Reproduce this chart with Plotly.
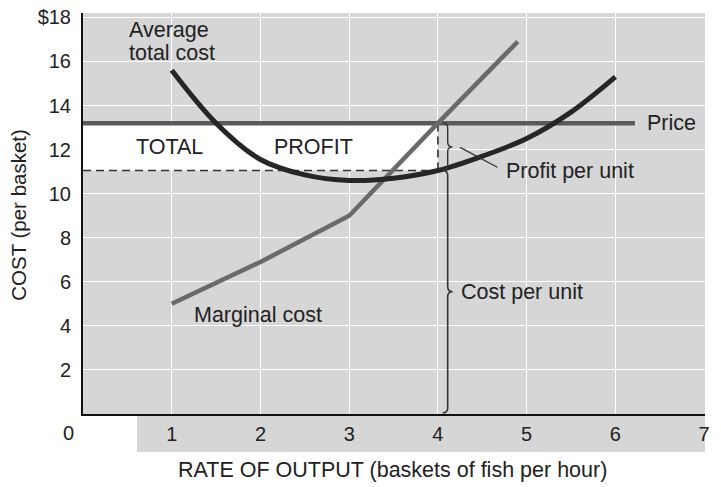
import plotly.graph_objects as go

# ---------------- data ----------------
atc_x = [1, 1.5, 2, 2.5, 3, 3.5, 4, 4.5, 5, 5.5, 6]
atc_y = [15.6, 13.2, 11.55, 10.85, 10.6, 10.7, 11.05, 11.7, 12.5, 13.7, 15.3]
mc_x = [1, 2, 3, 4, 4.9]
mc_y = [5, 6.9, 9, 13.2, 16.9]
price = 13.2
price_x_end = 6.22
profit_q = 4.0
unit_cost = 11.05
x_ticks = [1, 2, 3, 4, 5, 6, 7]
y_ticks = [2, 4, 6, 8, 10, 12, 14, 16, 18]
y_ticktext = ["2", "4", "6", "8", "10", "12", "14", "16", "$18"]

FONT = "Liberation Sans, Arial, sans-serif"
TXT = "#222"
LBL = 21.5
TICK = 20

fig = go.Figure()

# Price line
fig.add_trace(go.Scatter(x=[0, price_x_end], y=[price, price], mode="lines",
                         line=dict(color="#5a5a5a", width=4.5), hoverinfo="skip"))
# dashed lines for total profit box
fig.add_trace(go.Scatter(x=[0, profit_q], y=[unit_cost, unit_cost], mode="lines",
                         line=dict(color="#333", width=1.6, dash="8px,5px"), hoverinfo="skip"))
fig.add_trace(go.Scatter(x=[profit_q, profit_q], y=[unit_cost, price], mode="lines",
                         line=dict(color="#333", width=1.6, dash="8px,5px"), hoverinfo="skip"))
# Marginal cost
fig.add_trace(go.Scatter(x=mc_x, y=mc_y, mode="lines",
                         line=dict(color="#6a6a6a", width=4.5), hoverinfo="skip"))
# Average total cost
fig.add_trace(go.Scatter(x=atc_x, y=atc_y, mode="lines", line_shape="spline",
                         line=dict(color="#262626", width=5), hoverinfo="skip"))

# ---------------- braces ----------------
def brace(xb, y0, y1, ym, d=0.055, e=0.22):
    return (f"M {xb-d},{y1} Q {xb},{y1} {xb},{y1-e} L {xb},{ym+e} "
            f"Q {xb},{ym} {xb+d},{ym} Q {xb},{ym} {xb},{ym-e} "
            f"L {xb},{y0+e} Q {xb},{y0} {xb-d},{y0}")

brace_x = profit_q + 0.11
shapes = [
    # white total-profit band
    dict(type="rect", xref="x", yref="y", x0=0, x1=profit_q, y0=unit_cost, y1=price,
         fillcolor="white", line=dict(width=0), layer="below"),
    # grey strip of the scan below the axis
    dict(type="rect", xref="paper", yref="paper", x0=0.087, x1=1.0, y0=-0.095, y1=0,
         fillcolor="#d6d6d6", line=dict(width=0), layer="below"),
    dict(type="path", xref="x", yref="y",
         path=brace(brace_x, unit_cost, price, (unit_cost + price) / 2),
         line=dict(color="#333", width=1.4)),
    dict(type="path", xref="x", yref="y",
         path=brace(brace_x, 0.05, unit_cost, 5.55),
         line=dict(color="#333", width=1.6)),
    # connector for profit per unit
    dict(type="line", xref="x", yref="y", x0=4.25, y0=12.1, x1=4.67, y1=11.2,
         line=dict(color="#333", width=1.3)),
]

def lab(text, x, y, xanchor="center", size=LBL, **kw):
    d = dict(text=text, x=x, y=y, xref="x", yref="y", xanchor=xanchor,
             yanchor="middle", showarrow=False,
             font=dict(size=size, color=TXT, family=FONT))
    d.update(kw)
    return d

annotations = [
    lab("Average", 0.5, 17.43, xanchor="left"),
    lab("total cost", 0.5, 16.39, xanchor="left"),
    lab("TOTAL", 0.98, 12.1),
    lab("PROFIT", 2.6, 12.1),
    lab("Price", 6.33, price, xanchor="left"),
    lab("Profit per unit", 4.74, 11.05, xanchor="left"),
    lab("Cost per unit", 4.24, 5.55, xanchor="left"),
    lab("Marginal cost", 1.97, 4.5),
    dict(text="0", x=-0.024, y=-0.047, xref="paper", yref="paper", showarrow=False,
         xanchor="center", yanchor="middle",
         font=dict(size=TICK, color=TXT, family=FONT)),
    dict(text="RATE OF OUTPUT (baskets of fish per hour)", x=0.497, y=-0.14,
         xref="paper", yref="paper", showarrow=False, xanchor="center", yanchor="middle",
         font=dict(size=LBL, color=TXT, family=FONT)),
    dict(text="COST (per basket)", x=-0.105, y=0.496, xref="paper", yref="paper",
         textangle=-90, showarrow=False, xanchor="center", yanchor="middle",
         font=dict(size=LBL - 1, color=TXT, family=FONT)),
]

# plot area on the reference pixels (x 83..705, y 13..414); body margin removed
fig.update_layout(
    width=721, height=487,
    margin=dict(l=83, r=16, t=13, b=73, autoexpand=False),
    paper_bgcolor="white", plot_bgcolor="#d6d6d6",
    showlegend=False, hovermode=False,
    shapes=shapes, annotations=annotations,
    font=dict(family=FONT, color=TXT, size=TICK),
)
fig.update_xaxes(range=[0, 7.01], tickvals=x_ticks, showgrid=True, gridcolor="white",
                 gridwidth=1.2, zeroline=False, showline=True, linecolor="#111",
                 linewidth=2, ticks="outside", ticklen=1, tickcolor="rgba(0,0,0,0)",
                 automargin=False, ticklabeloverflow="allow",
                 tickfont=dict(size=TICK, color=TXT, family=FONT))
fig.update_yaxes(range=[0, 18.2], tickvals=y_ticks, ticktext=y_ticktext, showgrid=True,
                 gridcolor="white", gridwidth=1.2, zeroline=False, showline=True,
                 linecolor="#111", linewidth=2, ticks="outside", ticklen=6,
                 automargin=False, ticklabeloverflow="allow",
                 tickcolor="rgba(0,0,0,0)", tickfont=dict(size=TICK, color=TXT, family=FONT))

fig.write_html("out.html", config={"displayModeBar": False},
               post_script="document.body.style.margin='0';document.body.style.overflow='hidden';")
